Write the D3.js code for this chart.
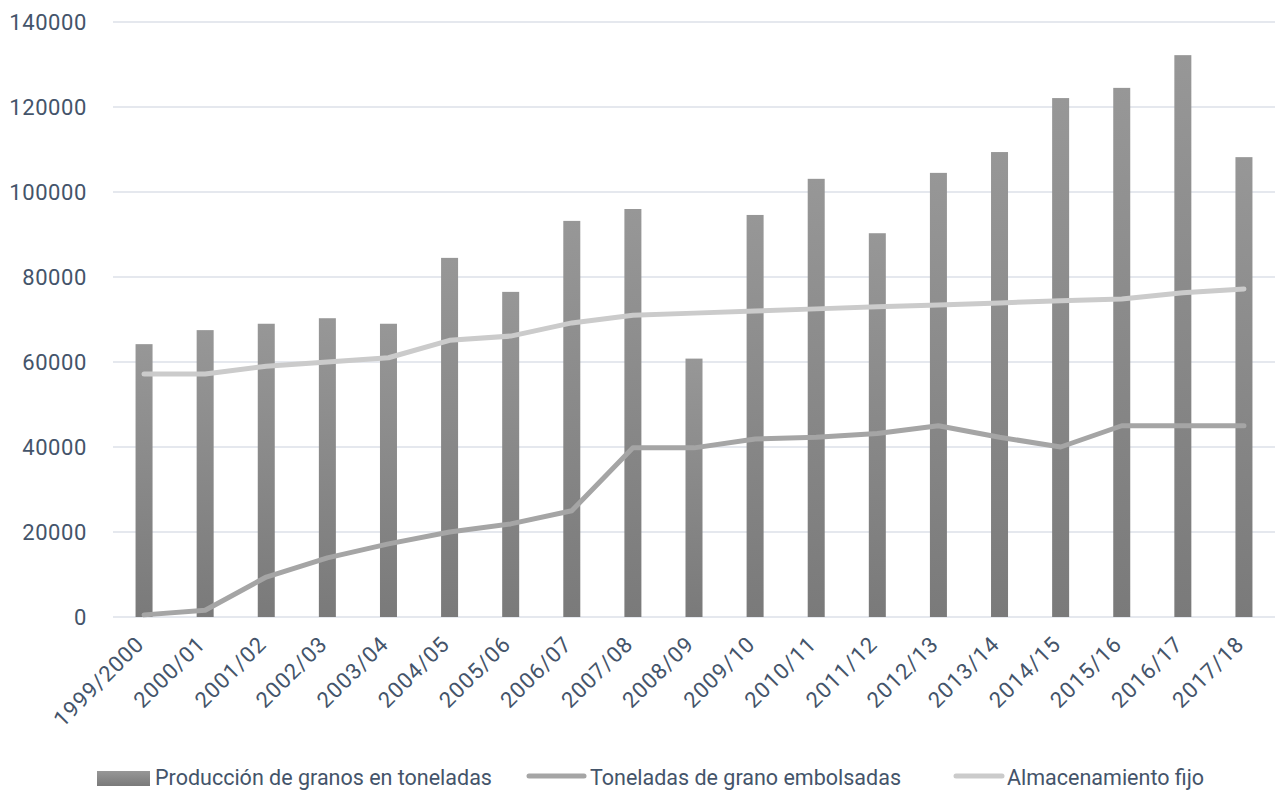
<!DOCTYPE html>
<html><head><meta charset="utf-8">
<script src="https://cdn.jsdelivr.net/npm/d3@7"></script>
<style>body{margin:0;background:#fff}svg{display:block}</style>
</head><body>
<svg id="c" width="1277" height="790"></svg>
<script>
const categories = ["1999/2000","2000/01","2001/02","2002/03","2003/04","2004/05","2005/06","2006/07","2007/08","2008/09","2009/10","2010/11","2011/12","2012/13","2013/14","2014/15","2015/16","2016/17","2017/18"];
const produccion = [64200,67500,69000,70300,69000,84500,76500,93200,96000,60800,94600,103100,90300,104500,109400,122100,124500,132200,108200];
const embolsadas = [500,1600,9400,13900,17200,20000,21900,25000,39800,39800,41900,42300,43200,45000,42300,40000,45000,45000,45000];
const fijo = [57200,57200,59000,60000,61000,65100,66100,69200,71000,71500,72000,72500,73000,73400,73900,74400,74800,76300,77200];
const yTicks = [0,20000,40000,60000,80000,100000,120000,140000];
const seriesNames = ["Producción de granos en toneladas","Toneladas de grano embolsadas","Almacenamiento fijo"];

const FONT = "Roboto, 'Open Sans', sans-serif";
const TXT = "#44546a";
const svg = d3.select("#c");
const x = d3.scaleBand().domain(categories).range([113.5, 1274.5]);
const y = d3.scaleLinear().domain([0,140000]).range([617, 22]);

const defs = svg.append("defs");
const g = defs.append("linearGradient").attr("id","bg").attr("x1",0).attr("y1",0).attr("x2",0).attr("y2",1);
g.append("stop").attr("offset","0%").attr("stop-color","#979797");
g.append("stop").attr("offset","100%").attr("stop-color","#7a7a7a");
const g2 = defs.append("linearGradient").attr("id","bgl").attr("x1",0).attr("y1",0).attr("x2",0).attr("y2",1);
g2.append("stop").attr("offset","0%").attr("stop-color","#979797");
g2.append("stop").attr("offset","100%").attr("stop-color","#7a7a7a");

// grid
svg.append("g").selectAll("line").data(yTicks).join("line")
  .attr("x1",113).attr("x2",1275)
  .attr("y1",d=>y(d)).attr("y2",d=>y(d))
  .attr("stroke","#dde1e8").attr("stroke-width",1.5);

// y axis labels
const yAxis = d3.axisLeft(y).tickValues(yTicks).tickFormat(d3.format("d")).tickSize(0).tickPadding(0);
const ya = svg.append("g").attr("transform","translate(87,0)").call(yAxis);
ya.select(".domain").remove();
ya.selectAll("text").attr("font-family",FONT).attr("font-size",22).attr("letter-spacing","0.6px")
  .attr("fill",TXT).attr("dy","0.35em");

// bars
const bw = 17;
svg.append("g").selectAll("rect").data(produccion).join("rect")
  .attr("x",(d,i)=>x(categories[i]) + x.bandwidth()/2 - bw/2)
  .attr("width",bw)
  .attr("y",d=>y(d))
  .attr("height",d=>y(0)-y(d))
  .attr("fill","url(#bg)");

// lines
const line = d3.line().x((d,i)=>x(categories[i])+x.bandwidth()/2).y(d=>y(d));
svg.append("path").datum(embolsadas).attr("d",line).attr("fill","none")
  .attr("stroke","#a5a5a5").attr("stroke-width",5).attr("stroke-linecap","round").attr("stroke-linejoin","round");
svg.append("path").datum(fijo).attr("d",line).attr("fill","none")
  .attr("stroke","#cbcbcb").attr("stroke-width",5).attr("stroke-linecap","round").attr("stroke-linejoin","round");

// x axis labels
const xAxis = d3.axisBottom(x).tickSize(0).tickPadding(0);
const xa = svg.append("g").attr("transform","translate(0,617)").call(xAxis);
xa.select(".domain").remove();
xa.selectAll("text")
  .attr("font-family",FONT).attr("font-size",22).attr("letter-spacing","1px").attr("fill",TXT)
  .attr("text-anchor","end")
  .attr("transform","translate(-4,23) rotate(-45)")
  .attr("dy","0.35em").attr("y",0);

// legend
const leg = svg.append("g");
leg.append("rect").attr("x",97).attr("y",771).attr("width",53).attr("height",15).attr("fill","url(#bgl)");
leg.append("text").attr("x",155).attr("y",785).text(seriesNames[0]);
leg.append("line").attr("x1",529).attr("x2",584).attr("y1",776).attr("y2",776)
  .attr("stroke","#a5a5a5").attr("stroke-width",5).attr("stroke-linecap","round");
leg.append("text").attr("x",590).attr("y",785).text(seriesNames[1]);
leg.append("line").attr("x1",956).attr("x2",1002).attr("y1",776).attr("y2",776)
  .attr("stroke","#cbcbcb").attr("stroke-width",5).attr("stroke-linecap","round");
leg.append("text").attr("x",1007).attr("y",785).text(seriesNames[2]);
leg.selectAll("text").attr("font-family",FONT).attr("font-size",21.5).attr("fill",TXT);
</script>
</body></html>
